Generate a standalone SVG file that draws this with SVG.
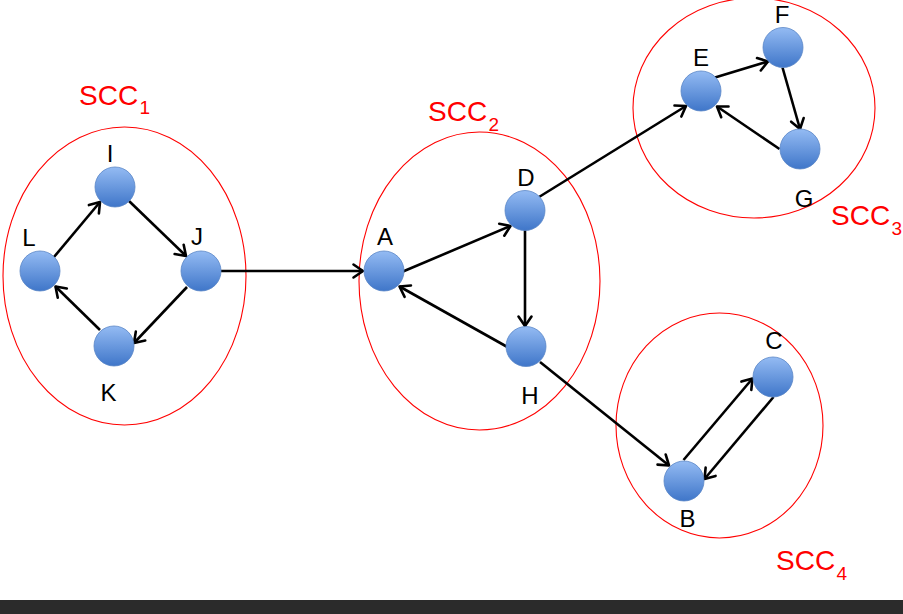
<svg xmlns="http://www.w3.org/2000/svg" width="903" height="614" viewBox="0 0 903 614">
<style>
.scc{fill:none;stroke:#ff0000;stroke-width:1.1}
.node{fill:url(#ng);stroke:#5b86c6;stroke-width:0.8}
.lbl{font-family:"Liberation Sans",Arial,sans-serif;font-size:24px;fill:#000;text-anchor:middle}
.sl{font-family:"Liberation Sans",Arial,sans-serif;font-size:28px;fill:#ff0000}
.sub{font-size:19px}
.edge{fill:none;stroke:#000;stroke-width:2.6;marker-end:url(#ah)}
</style>
<defs>
<linearGradient id="ng" x1="0" y1="0" x2="0" y2="1">
<stop offset="0" stop-color="#94bbf3"/>
<stop offset="1" stop-color="#3f76c9"/>
</linearGradient>
<marker id="ah" markerUnits="userSpaceOnUse" markerWidth="20" markerHeight="20" viewBox="-12 -10 14 20" refX="0" refY="0" orient="auto">
<path d="M-9.5,-6.5 L0,0 L-9.5,6.5" fill="none" stroke="#000" stroke-width="2.6" stroke-linecap="round" stroke-linejoin="round"/>
</marker>
</defs>
<rect x="0" y="0" width="903" height="614" fill="#ffffff"/>
<g id="scc1">
<ellipse class="scc" cx="124.5" cy="276" rx="121.5" ry="149"/>
<text class="sl" x="79" y="105">SCC<tspan class="sub" x="139.5" y="114">1</tspan></text>
</g>
<g id="scc2">
<ellipse class="scc" cx="479.5" cy="281" rx="120.5" ry="149"/>
<text class="sl" x="428" y="121">SCC<tspan class="sub" x="488.5" y="131">2</tspan></text>
</g>
<g id="scc3">
<ellipse class="scc" cx="754" cy="108" rx="121" ry="110"/>
<text class="sl" x="831" y="225">SCC<tspan class="sub" x="891.5" y="235">3</tspan></text>
</g>
<g id="scc4">
<ellipse class="scc" cx="719.5" cy="425.5" rx="103.5" ry="112.5"/>
<text class="sl" x="776" y="570">SCC<tspan class="sub" x="836.5" y="580">4</tspan></text>
</g>
<g id="connectors">
<line class="edge" x1="54" y1="257" x2="100" y2="202"/>
<line class="edge" x1="129" y1="201" x2="186" y2="256"/>
<line class="edge" x1="187" y1="287" x2="134" y2="343"/>
<line class="edge" x1="100" y1="330" x2="55.5" y2="286.5"/>
<line class="edge" x1="221" y1="271" x2="363" y2="271"/>
<line class="edge" x1="403" y1="271.5" x2="510.5" y2="226"/>
<line class="edge" x1="525" y1="230" x2="525" y2="326"/>
<line class="edge" x1="506.5" y1="346.5" x2="399.5" y2="286.5"/>
<line class="edge" x1="539" y1="197" x2="686" y2="106"/>
<line class="edge" x1="715" y1="77.5" x2="768" y2="61.5"/>
<line class="edge" x1="782.5" y1="67.5" x2="800" y2="129"/>
<line class="edge" x1="779.5" y1="149" x2="717" y2="106.5"/>
<line class="edge" x1="540" y1="362" x2="669" y2="465.5"/>
<line class="edge" x1="683.5" y1="460" x2="752.5" y2="378.5"/>
<line class="edge" x1="773.5" y1="397" x2="704.5" y2="479"/>
</g>
<g id="node-I"><circle class="node" cx="115" cy="187" r="20"/><text class="lbl" x="110" y="162">I</text></g>
<g id="node-L"><circle class="node" cx="40" cy="271" r="20"/><text class="lbl" x="29" y="246">L</text></g>
<g id="node-J"><circle class="node" cx="201" cy="271" r="20"/><text class="lbl" x="197" y="245">J</text></g>
<g id="node-K"><circle class="node" cx="114" cy="346" r="20"/><text class="lbl" x="108.5" y="401">K</text></g>
<g id="node-A"><circle class="node" cx="384" cy="271" r="20"/><text class="lbl" x="385" y="245">A</text></g>
<g id="node-D"><circle class="node" cx="525" cy="210.5" r="20"/><text class="lbl" x="526" y="186">D</text></g>
<g id="node-H"><circle class="node" cx="526" cy="346.5" r="20"/><text class="lbl" x="530" y="404">H</text></g>
<g id="node-E"><circle class="node" cx="701" cy="91" r="20"/><text class="lbl" x="701" y="66">E</text></g>
<g id="node-F"><circle class="node" cx="783" cy="47.5" r="20"/><text class="lbl" x="782" y="23">F</text></g>
<g id="node-G"><circle class="node" cx="800" cy="149" r="20"/><text class="lbl" x="804" y="207">G</text></g>
<g id="node-C"><circle class="node" cx="773" cy="377" r="20"/><text class="lbl" x="774" y="349">C</text></g>
<g id="node-B"><circle class="node" cx="684" cy="481" r="20"/><text class="lbl" x="687.5" y="527">B</text></g>
<rect x="0" y="600" width="903" height="14" fill="#2b2b2b"/>
</svg>
